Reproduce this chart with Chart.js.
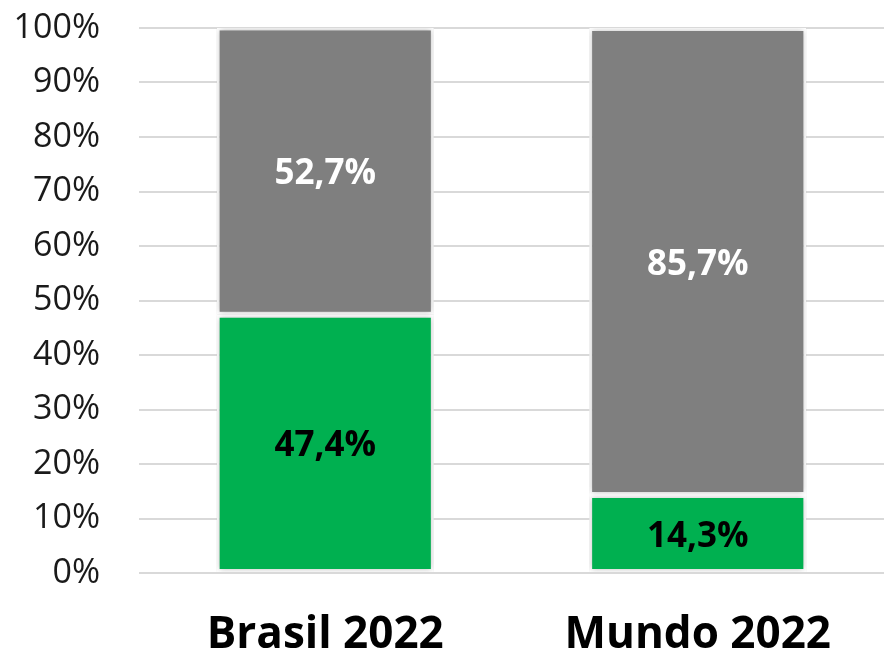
<!DOCTYPE html>
<html>
<head>
<meta charset="utf-8">
<script src="https://cdn.jsdelivr.net/npm/chart.js@4"></script>
<style>
  html, body { margin: 0; padding: 0; background: #fff; }
  #grafico { display: block; }
</style>
</head>
<body>
<canvas id="grafico" width="884" height="660"></canvas>
<script>
const categorias = ['Brasil 2022', 'Mundo 2022'];
const renovaveis = [47.4, 14.3];
const naoRenovaveis = [52.7, 85.7];
const ticksY = [0, 10, 20, 30, 40, 50, 60, 70, 80, 90, 100];

function formataPct(v) {
  return v.toFixed(1).replace('.', ',') + '%';
}

// escreve o valor no meio de cada segmento
const rotulos = {
  id: 'rotulos',
  afterDatasetsDraw(chart) {
    const ctx = chart.ctx;
    ctx.save();
    ctx.font = 'bold 35px "Open Sans", sans-serif';
    ctx.textAlign = 'center';
    ctx.textBaseline = 'middle';
    chart.data.datasets.forEach((ds, i) => {
      chart.getDatasetMeta(i).data.forEach((barra, j) => {
        const meio = (barra.y + barra.base) / 2 + 3;
        ctx.fillStyle = ds.corTexto;
        ctx.fillText(formataPct(ds.data[j]), barra.x, meio);
      });
    });
    ctx.restore();
  }
};

// sombra leve em volta das barras
const sombra = {
  id: 'sombra',
  beforeDatasetsDraw(chart) {
    const ctx = chart.ctx;
    ctx.save();
    ctx.shadowColor = 'rgba(0,0,0,0.25)';
    ctx.shadowBlur = 6;
  },
  afterDatasetsDraw(chart) {
    chart.ctx.restore();
  }
};

new Chart(document.getElementById('grafico'), {
  type: 'bar',
  data: {
    labels: categorias,
    datasets: [{
      label: 'Renováveis',
      data: renovaveis,
      backgroundColor: '#00B050',
      borderColor: '#ffffff',
      borderWidth: 3,
      borderSkipped: false,
      corTexto: '#000000'
    }, {
      label: 'Não renováveis',
      data: naoRenovaveis,
      backgroundColor: '#7F7F7F',
      borderColor: '#ffffff',
      borderWidth: 3,
      borderSkipped: false,
      corTexto: '#ffffff'
    }]
  },
  options: {
    responsive: false,
    animation: false,
    layout: { padding: { top: 28, right: 0, left: 0, bottom: 0 } },
    datasets: { bar: { barPercentage: 0.583, categoryPercentage: 1 } },
    plugins: {
      legend: { display: false },
      tooltip: { enabled: false }
    },
    scales: {
      x: {
        stacked: true,
        afterFit(eixo) { eixo.height = 87; },
        grid: { display: false },
        border: { display: false },
        ticks: {
          color: '#000',
          padding: 28,
          font: { family: '"Open Sans", sans-serif', size: 44, weight: 'bold' }
        }
      },
      y: {
        stacked: true,
        min: 0,
        max: 100,
        afterFit(eixo) {
          eixo.width = 139;
          eixo.paddingTop = 0;
          eixo.paddingBottom = 0;
        },
        afterBuildTicks(eixo) {
          eixo.ticks = ticksY.map(v => ({ value: v }));
        },
        grid: { color: '#d9d9d9', lineWidth: 2, drawTicks: false },
        border: { display: false },
        ticks: {
          color: '#1a1a1a',
          padding: 39,
          font: { family: '"Open Sans", sans-serif', size: 34 },
          callback: v => v + '%'
        }
      }
    }
  },
  plugins: [sombra, rotulos]
});
</script>
</body>
</html>
